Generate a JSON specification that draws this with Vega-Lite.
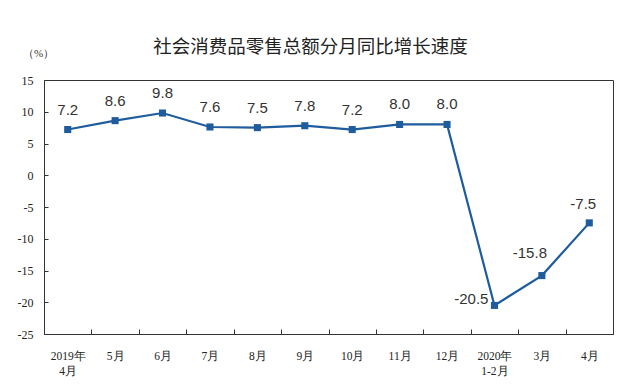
{
  "$schema": "https://vega.github.io/schema/vega-lite/v6.json",
  "width": 569,
  "height": 254,
  "autosize": {"type": "none"},
  "padding": {"left": 44, "top": 80, "right": 7, "bottom": 55},
  "background": "white",
  "title": {
    "text": "社会消费品零售总额分月同比增长速度",
    "font": "Noto Sans CJK SC",
    "fontSize": 18.5,
    "fontWeight": "normal",
    "color": "#222",
    "anchor": "middle",
    "dx": -18,
    "offset": -9
  },
  "config": {
    "locale": {"number": {"decimal": ".", "thousands": ",", "grouping": [3], "currency": ["", ""], "minus": "-"}},
    "view": {"stroke": "#333", "strokeWidth": 1},
    "axis": {"grid": false}
  },
  "data": {
    "values": [
      {"m": "2019年|4月", "v": 7.2, "pos": "top"},
      {"m": "5月", "v": 8.6, "pos": "top"},
      {"m": "6月", "v": 9.8, "pos": "top"},
      {"m": "7月", "v": 7.6, "pos": "top"},
      {"m": "8月", "v": 7.5, "pos": "top"},
      {"m": "9月", "v": 7.8, "pos": "top"},
      {"m": "10月", "v": 7.2, "pos": "top"},
      {"m": "11月", "v": 8.0, "pos": "top"},
      {"m": "12月", "v": 8.0, "pos": "top"},
      {"m": "2020年|1-2月", "v": -20.5, "pos": "left"},
      {"m": "3月", "v": -15.8, "pos": "upleft"},
      {"m": " 4月", "v": -7.5, "pos": "upleft2"}
    ]
  },
  "encoding": {
    "x": {
      "field": "m",
      "type": "nominal",
      "sort": null,
      "scale": {"type": "band", "paddingInner": 0, "paddingOuter": 0},
      "axis": {
        "title": null,
        "labelAngle": 0,
        "labelExpr": "split(datum.label, '|')",
        "labelFont": "Liberation Serif",
        "labelFontSize": 11.5,
        "labelColor": "#222",
        "labelLineHeight": 15,
        "labelBaseline": "top",
        "tickBand": "extent",
        "tickSize": -5,
        "tickColor": "#333",
        "domainColor": "#333",
        "labelPadding": 21
      }
    },
    "y": {
      "field": "v",
      "type": "quantitative",
      "scale": {"domain": [-25, 15], "nice": false, "zero": false},
      "axis": {
        "values": [-25, -20, -15, -10, -5, 0, 5, 10, 15],
        "title": "（%）",
        "titleAngle": 0,
        "titleFont": "Liberation Serif",
        "titleFontSize": 11,
        "titleFontWeight": "normal",
        "titleColor": "#333",
        "titleAlign": "center",
        "titleBaseline": "middle",
        "titleX": -6,
        "titleY": -27,
        "labelFont": "Liberation Serif",
        "labelFontSize": 12,
        "labelColor": "#222",
        "tickSize": -4,
        "tickColor": "#333",
        "domainColor": "#333",
        "labelPadding": 15
      }
    }
  },
  "layer": [
    {
      "mark": {"type": "line", "color": "#1f5c9e", "strokeWidth": 2.2}
    },
    {
      "mark": {"type": "square", "color": "#1f5c9e", "opacity": 1, "size": 50, "filled": true}
    },
    {
      "transform": [{"filter": "datum.pos == 'top'"}],
      "mark": {"type": "text", "dy": -20, "font": "Liberation Sans", "fontSize": 15, "color": "#333"},
      "encoding": {"text": {"field": "v", "type": "quantitative", "format": ".1f"}}
    },
    {
      "transform": [{"filter": "datum.pos == 'left'"}],
      "mark": {"type": "text", "align": "right", "dx": -6, "dy": -6, "font": "Liberation Sans", "fontSize": 15, "color": "#333"},
      "encoding": {"text": {"field": "v", "type": "quantitative", "format": ".1f"}}
    },
    {
      "transform": [{"filter": "datum.pos == 'upleft'"}],
      "mark": {"type": "text", "dx": -12, "dy": -23, "font": "Liberation Sans", "fontSize": 15, "color": "#333"},
      "encoding": {"text": {"field": "v", "type": "quantitative", "format": ".1f"}}
    },
    {
      "transform": [{"filter": "datum.pos == 'upleft2'"}],
      "mark": {"type": "text", "dx": -6, "dy": -19, "font": "Liberation Sans", "fontSize": 15, "color": "#333"},
      "encoding": {"text": {"field": "v", "type": "quantitative", "format": ".1f"}}
    }
  ]
}
